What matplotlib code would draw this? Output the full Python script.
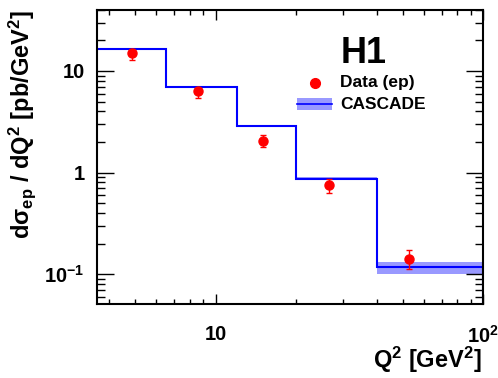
import numpy as np
import matplotlib
matplotlib.use('Agg')
import matplotlib.pyplot as plt
from matplotlib.patches import Rectangle

plt.rcParams['font.family'] = ['Liberation Sans', 'DejaVu Sans']
plt.rcParams['font.weight'] = 'bold'
plt.rcParams['mathtext.fontset'] = 'custom'
plt.rcParams['mathtext.rm'] = 'Liberation Sans:bold'
plt.rcParams['mathtext.bf'] = 'Liberation Sans:bold'
plt.rcParams['mathtext.it'] = 'Liberation Sans:bold'
plt.rcParams['mathtext.default'] = 'bf'

# CASCADE prediction (bin edges, values, band)
bin_edges = [3.0, 6.5, 12.0, 20.0, 40.0, 100.0]
cascade = [16.4, 6.95, 2.85, 0.873, 0.117]
cascade_lo = [16.0, 6.8, 2.78, 0.85, 0.100]
cascade_hi = [16.8, 7.1, 2.92, 0.90, 0.131]

# H1 data
q2 = [4.85, 8.6, 15.0, 26.6, 52.9]
xsec = [14.9, 6.36, 2.06, 0.75, 0.1415]
err_up = [16.4, 6.75, 2.34, 0.873, 0.172]
err_dn = [12.8, 5.46, 1.77, 0.625, 0.113]

fig = plt.figure(figsize=(4.98, 3.78), dpi=100)
ax = fig.add_axes([0.195, 0.196, 0.775, 0.778])

edges = np.array(bin_edges)
for i in range(len(cascade)):
    ax.fill_between([edges[i], edges[i + 1]], cascade_lo[i], cascade_hi[i],
                    color='#9999ff', lw=0, zorder=1)
ax.stairs(cascade, edges, color='#0000ff', lw=1.5, zorder=2)

xs = np.array(xsec)
yerr = [xs - np.array(err_dn), np.array(err_up) - xs]
ax.errorbar(q2, xsec, yerr=yerr, fmt='o', color='red', ms=6.5, elinewidth=1,
            capsize=2, capthick=1, zorder=3)

ax.set_xscale('log')
ax.set_yscale('log')
ax.set_xlim(3.6, 100)
ax.set_ylim(0.051, 40)

ax.set_xticks([10, 100])
ax.set_xticklabels(['10', r'10$^{2}$'])
ax.set_yticks([0.1, 1, 10])
ax.set_yticklabels([r'10$^{-1}$', '1', '10'])
ax.tick_params(which='both', direction='in', top=True, right=True, labelsize=14.5)
ax.tick_params(axis='x', which='major', length=7, width=1, pad=15)
ax.tick_params(axis='x', which='minor', length=3.5, width=1)
ax.tick_params(axis='y', which='major', length=12, width=1, pad=9)
ax.tick_params(axis='y', which='minor', length=6, width=1)
for s in ax.spines.values():
    s.set_linewidth(1.5)

ax.text(0.997, -0.19, r'Q$^{2}$ [GeV$^{2}$]', transform=ax.transAxes,
        fontsize=17, fontweight='bold', ha='right', va='center')
ax.text(-0.194, 1.0, r'd$\sigma_{ep}$ / dQ$^{2}$ [pb/GeV$^{2}$]', transform=ax.transAxes,
        fontsize=17, fontweight='bold', rotation=90, ha='center', va='top')

ax.text(0.63, 0.853, 'H1', transform=ax.transAxes, fontsize=26, fontweight='bold',
        ha='left', va='center')

# legend
ax.plot([0.565], [0.752], 'o', color='red', ms=7, transform=ax.transAxes, clip_on=False)
ax.text(0.63, 0.752, 'Data (ep)', transform=ax.transAxes, fontsize=12.5,
        fontweight='bold', ha='left', va='center')
ax.add_patch(Rectangle((0.518, 0.660), 0.091, 0.041, transform=ax.transAxes,
                       facecolor='#9999ff', edgecolor='none', clip_on=False))
ax.plot([0.518, 0.609], [0.680, 0.680], color='#0000ff', lw=1.2,
        transform=ax.transAxes, clip_on=False)
ax.text(0.63, 0.677, 'CASCADE', transform=ax.transAxes, fontsize=12.5,
        fontweight='bold', ha='left', va='center')

fig.savefig('out.png', dpi=100)
